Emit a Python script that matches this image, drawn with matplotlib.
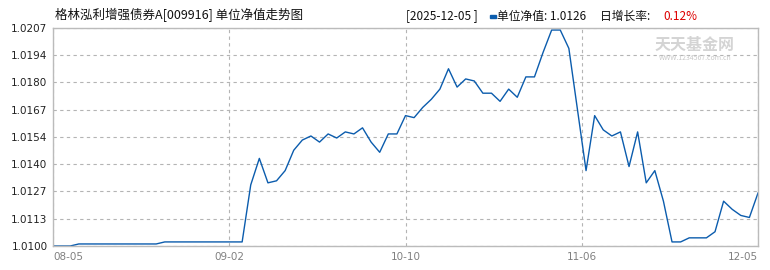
import numpy as np
import matplotlib
matplotlib.use("Agg")
import matplotlib.pyplot as plt
from matplotlib.patches import Rectangle

plt.rcParams['font.family'] = ['Noto Sans CJK SC', 'DejaVu Sans']

fund_name = '格林泓利增强债券A[009916] 单位净值走势图'
last_date = '2025-12-05'
last_nav = '1.0126'
day_growth = '0.12%'

# unit NAV, one value per trading day from 08-05 to 12-05
nav = [1.0100, 1.0100, 1.0100, 1.0101, 1.0101, 1.0101, 1.0101, 1.0101, 1.0101, 1.0101,
       1.0101, 1.0101, 1.0101, 1.0102, 1.0102, 1.0102, 1.0102, 1.0102, 1.0102, 1.0102,
       1.0102, 1.0102, 1.0102, 1.0130, 1.0143, 1.0131, 1.0132, 1.0137, 1.0147, 1.0152,
       1.0154, 1.0151, 1.0155, 1.0153, 1.0156, 1.0155, 1.0158, 1.0151, 1.0146, 1.0155,
       1.0155, 1.0164, 1.0163, 1.0168, 1.0172, 1.0177, 1.0187, 1.0178, 1.0182, 1.0181,
       1.0175, 1.0175, 1.0171, 1.0177, 1.0173, 1.0183, 1.0183, 1.0195, 1.0206, 1.0206,
       1.0197, 1.0167, 1.0137, 1.0164, 1.0157, 1.0154, 1.0156, 1.0139, 1.0156, 1.0131,
       1.0137, 1.0122, 1.0102, 1.0102, 1.0104, 1.0104, 1.0104, 1.0107, 1.0122, 1.0118,
       1.0115, 1.0114, 1.0126]
x_labels = ['08-05', '09-02', '10-10', '11-06', '12-05']
y_labels = ['1.0100', '1.0113', '1.0127', '1.0140', '1.0154', '1.0167', '1.0180', '1.0194', '1.0207']
y_min, y_max = 1.0100, 1.0207

W, H = 770, 270
fig = plt.figure(figsize=(W / 100, H / 100), dpi=100)
ax = fig.add_axes([53 / W, 24 / H, 705 / W, 218 / H])

x = np.arange(len(nav))
ax.plot(x, nav, color='#0b5cad', lw=1.0)

ax.set_xlim(0, len(nav) - 1)
ax.set_ylim(y_min, y_max)
ax.set_yticks(np.linspace(y_min, y_max, len(y_labels)))
ax.set_yticklabels(y_labels, family='DejaVu Sans', fontsize=7.5, color='#222222')
ax.set_xticks(np.linspace(0, len(nav) - 1, len(x_labels)))
lbls = ax.set_xticklabels(x_labels, family='DejaVu Sans', fontsize=7.5, color='#808080')
lbls[0].set_ha('left')
lbls[-1].set_ha('right')
ax.tick_params(length=0, pad=4)

ax.grid(True, color='#b4b4b4', lw=0.8, ls=(0, (3, 3)))
for sp in ax.spines.values():
    sp.set_color('#bbbbbb')
    sp.set_linewidth(1.0)

def px(xp, yp):
    return xp / W, 1 - yp / H

fig.text(*px(55, 15), fund_name, fontsize=9, va='center', ha='left', color='#111111')
fig.text(*px(406, 16), '[' + last_date + ' ]', fontsize=8.5, va='center', ha='left', color='#111111')
fig.patches.append(Rectangle(px(490, 17.5), 6 / W, 3 / H, transform=fig.transFigure,
                             color='#0b5cad', zorder=5))
fig.text(*px(497, 16), '单位净值: ' + last_nav, fontsize=8.5, va='center', ha='left', color='#111111')
fig.text(*px(600, 16), '日增长率: ', fontsize=8.5, va='center', ha='left', color='#111111')
fig.text(*px(663, 16), day_growth, fontsize=8.5, va='center', ha='left', color='#dd0000')

# watermark
fig.text(*px(695, 45), '天天基金网', fontsize=11.5, weight='bold', va='center', ha='center',
         color='#d4d4d4', zorder=0)
fig.text(*px(695, 58), 'WWW.1234567.com.cn', fontsize=5, va='center', ha='center',
         color='#c8c8c8', zorder=0)

fig.savefig('out.png', dpi=100)
